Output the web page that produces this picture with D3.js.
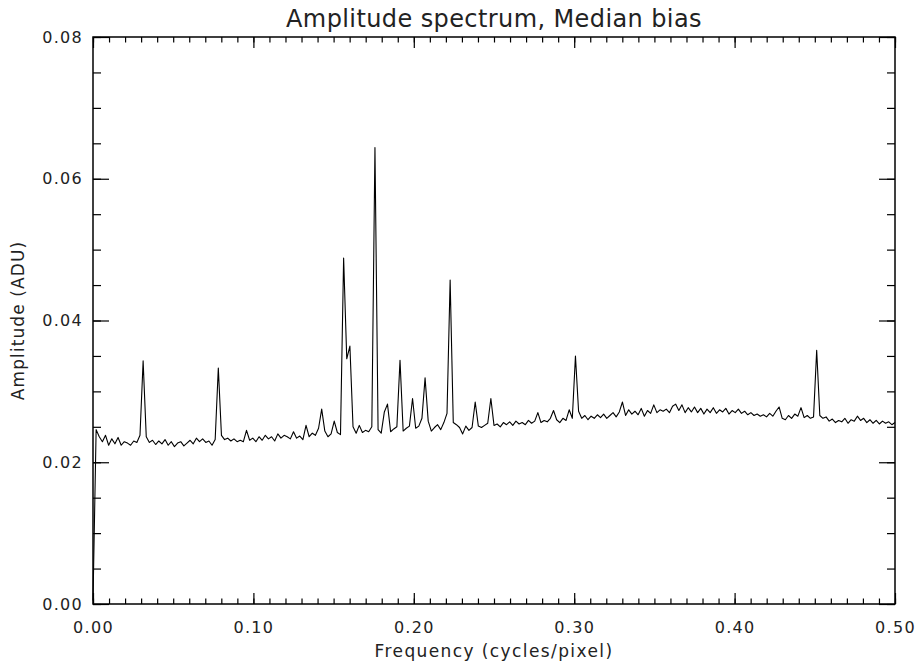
<!DOCTYPE html>
<html>
<head>
<meta charset="utf-8">
<script src="https://cdn.jsdelivr.net/npm/d3@7"></script>
<style>
	body { margin: 0; background: #fff; }
	svg text { font-family: "DejaVu Sans", sans-serif; fill: #222; }
</style>
</head>
<body>
<div class="chart"></div>
<script>
// amplitude spectrum, one value per frequency bin (bin k = k/512 cycles/pixel)
const freqStep = 1 / 512;
const amplitude = [
	0.0005, 0.0246, 0.0236, 0.0229, 0.0238, 0.0224, 0.0233, 0.0226, 0.0235, 0.0224, 0.0229, 0.0227, 0.0224, 0.0230, 0.0228, 0.0238,
	0.0343, 0.0236, 0.0228, 0.0231, 0.0225, 0.0230, 0.0226, 0.0232, 0.0224, 0.0229, 0.0222, 0.0227, 0.0229, 0.0223, 0.0227, 0.0231,
	0.0226, 0.0234, 0.0229, 0.0233, 0.0228, 0.0230, 0.0224, 0.0232, 0.0333, 0.0238, 0.0232, 0.0234, 0.0230, 0.0233, 0.0229, 0.0231,
	0.0229, 0.0245, 0.0231, 0.0234, 0.0229, 0.0236, 0.0231, 0.0238, 0.0233, 0.0236, 0.0230, 0.0240, 0.0234, 0.0238, 0.0236, 0.0233,
	0.0243, 0.0234, 0.0237, 0.0232, 0.0252, 0.0236, 0.0241, 0.0238, 0.0248, 0.0275, 0.0244, 0.0236, 0.0240, 0.0258, 0.0242, 0.0239,
	0.0488, 0.0346, 0.0364, 0.0250, 0.0241, 0.0252, 0.0242, 0.0245, 0.0243, 0.0250, 0.0644, 0.0246, 0.0241, 0.0271, 0.0282, 0.0243,
	0.0247, 0.0250, 0.0344, 0.0244, 0.0248, 0.0251, 0.0290, 0.0248, 0.0251, 0.0262, 0.0319, 0.0258, 0.0244, 0.0249, 0.0253, 0.0246,
	0.0256, 0.0269, 0.0457, 0.0256, 0.0253, 0.0249, 0.0240, 0.0251, 0.0245, 0.0249, 0.0285, 0.0251, 0.0249, 0.0252, 0.0255, 0.0290,
	0.0252, 0.0254, 0.0250, 0.0256, 0.0253, 0.0257, 0.0252, 0.0258, 0.0254, 0.0256, 0.0253, 0.0259, 0.0255, 0.0258, 0.0270, 0.0256,
	0.0259, 0.0257, 0.0262, 0.0273, 0.0260, 0.0256, 0.0262, 0.0259, 0.0274, 0.0262, 0.0350, 0.0272, 0.0262, 0.0266, 0.0260, 0.0265,
	0.0262, 0.0267, 0.0263, 0.0268, 0.0262, 0.0266, 0.0270, 0.0264, 0.0271, 0.0285, 0.0266, 0.0274, 0.0268, 0.0272, 0.0267, 0.0276,
	0.0265, 0.0273, 0.0269, 0.0281, 0.0270, 0.0274, 0.0272, 0.0275, 0.0270, 0.0279, 0.0282, 0.0273, 0.0281, 0.0270, 0.0277, 0.0271,
	0.0278, 0.0270, 0.0276, 0.0268, 0.0275, 0.0270, 0.0277, 0.0269, 0.0274, 0.0271, 0.0276, 0.0268, 0.0273, 0.0270, 0.0275, 0.0269,
	0.0272, 0.0267, 0.0270, 0.0266, 0.0268, 0.0265, 0.0267, 0.0264, 0.0269, 0.0265, 0.0272, 0.0278, 0.0262, 0.0260, 0.0266, 0.0262,
	0.0268, 0.0265, 0.0277, 0.0263, 0.0266, 0.0262, 0.0264, 0.0358, 0.0266, 0.0262, 0.0264, 0.0258, 0.0261, 0.0256, 0.0259, 0.0257,
	0.0262, 0.0255, 0.0260, 0.0258, 0.0265, 0.0259, 0.0262, 0.0256, 0.0260, 0.0255, 0.0259, 0.0254, 0.0258, 0.0255, 0.0257, 0.0253,
	0.0256
];

const xMajorTicks = [0.00, 0.10, 0.20, 0.30, 0.40, 0.50];
const yMajorTicks = [0.00, 0.02, 0.04, 0.06, 0.08];
const xMinorTicks = d3.range(0, 51).map(i => i / 100);
const yMinorTicks = d3.range(0, 17).map(i => i * 0.005);

const titleText = "Amplitude spectrum, Median bias";
const xTitle = "Frequency (cycles/pixel)";
const yTitle = "Amplitude (ADU)";

let spectrum = amplitude.map((a, i) => ({ f: i * freqStep, a: a }));

let width = 920, height = 663;
let plotLeft = 93, plotRight = 895, plotTop = 37, plotBottom = 604;

let svg = d3.select(".chart")
	.append("svg")
	.attr("width", width)
	.attr("height", height);

let x = d3.scaleLinear().domain([0, 0.5]).range([plotLeft, plotRight]);
let y = d3.scaleLinear().domain([0, 0.08]).range([plotBottom, plotTop]);

// minor ticks first, then major ticks on all four sides
function drawAxis(axis, tx, ty) {
	let g = svg.append("g")
		.attr("transform", "translate(" + tx + "," + ty + ")")
		.call(axis);
	g.select(".domain").remove();
	g.selectAll("line").attr("stroke", "#000").attr("stroke-width", 1.2);
	return g;
}

drawAxis(d3.axisBottom(x).tickValues(xMinorTicks).tickSize(-5.5).tickFormat(""), 0, plotBottom);
drawAxis(d3.axisTop(x).tickValues(xMinorTicks).tickSize(-5.5).tickFormat(""), 0, plotTop);
drawAxis(d3.axisLeft(y).tickValues(yMinorTicks).tickSize(-8).tickFormat(""), plotLeft, 0);
drawAxis(d3.axisRight(y).tickValues(yMinorTicks).tickSize(-8).tickFormat(""), plotRight, 0);

let xAxisG = drawAxis(d3.axisBottom(x).tickValues(xMajorTicks).tickSize(-11)
	.tickFormat(d3.format(".2f")).tickPadding(18), 0, plotBottom);
drawAxis(d3.axisTop(x).tickValues(xMajorTicks).tickSize(-11).tickFormat(""), 0, plotTop);
let yAxisG = drawAxis(d3.axisLeft(y).tickValues(yMajorTicks).tickSize(-16)
	.tickFormat(d3.format(".2f")).tickPadding(10), plotLeft, 0);
drawAxis(d3.axisRight(y).tickValues(yMajorTicks).tickSize(-16).tickFormat(""), plotRight, 0);

xAxisG.selectAll("text")
	.attr("font-size", 16)
	.style("letter-spacing", "1.3px");
yAxisG.selectAll("text")
	.attr("font-size", 16)
	.style("letter-spacing", "1.3px");

// plot frame
svg.append("rect")
	.attr("x", plotLeft)
	.attr("y", plotTop)
	.attr("width", plotRight - plotLeft)
	.attr("height", plotBottom - plotTop)
	.attr("fill", "none")
	.attr("stroke", "#000")
	.attr("stroke-width", 1.5);

// spectrum line
let line = d3.line()
	.x(d => x(d.f))
	.y(d => y(d.a));

svg.append("path")
	.datum(spectrum)
	.attr("d", line)
	.attr("fill", "none")
	.attr("stroke", "#000")
	.attr("stroke-width", 1.1)
	.attr("stroke-linejoin", "round");

// titles
svg.append("text")
	.attr("x", (plotLeft + plotRight) / 2)
	.attr("y", 27)
	.attr("text-anchor", "middle")
	.attr("font-size", 24)
	.style("letter-spacing", "0.4px")
	.text(titleText);

svg.append("text")
	.attr("x", (plotLeft + plotRight) / 2)
	.attr("y", 657)
	.attr("text-anchor", "middle")
	.attr("font-size", 17)
	.style("letter-spacing", "1.4px")
	.text(xTitle);

svg.append("text")
	.attr("transform", "translate(24," + ((plotTop + plotBottom) / 2) + ") rotate(-90)")
	.attr("text-anchor", "middle")
	.attr("font-size", 17)
	.style("letter-spacing", "1.1px")
	.text(yTitle);
</script>
</body>
</html>
